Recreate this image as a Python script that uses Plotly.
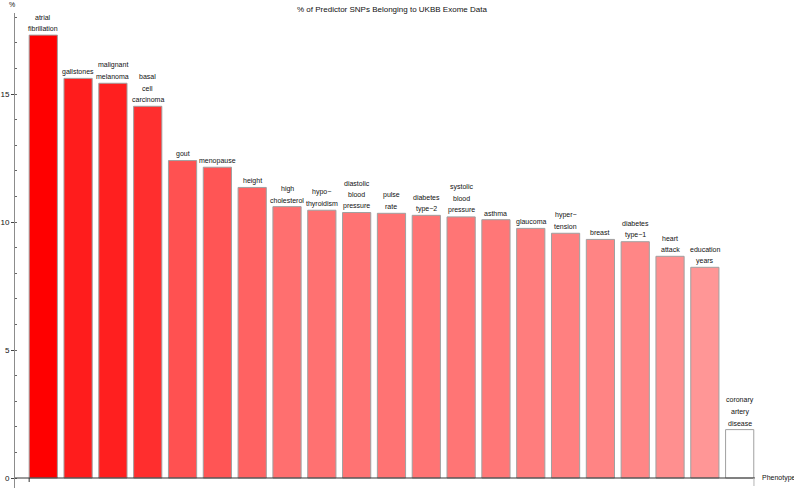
import plotly.graph_objects as go

phenotypes = [
    "atrial\nfibrillation", "gallstones", "malignant\nmelanoma", "basal\ncell\ncarcinoma",
    "gout", "menopause", "height", "high\ncholesterol", "hypo\u2212\nthyroidism",
    "diastolic\nblood\npressure", "pulse\nrate", "diabetes\ntype\u22122",
    "systolic\nblood\npressure", "asthma", "glaucoma", "hyper\u2212\ntension", "breast",
    "diabetes\ntype\u22121", "heart\nattack", "education\nyears", "coronary\nartery\ndisease",
]
percent = [17.30, 15.61, 15.42, 14.52, 12.40, 12.14, 11.35, 10.60, 10.46, 10.37, 10.34,
           10.26, 10.20, 10.09, 9.75, 9.56, 9.32, 9.23, 8.66, 8.23, 1.89]
y_ticks = [0, 5, 10, 15]

x = list(range(len(percent)))
vmin, vmax = min(percent), max(percent)
colors = []
for v in percent:
    s = (v - vmin) / (vmax - vmin)
    g = round(255 * (1 - s))
    colors.append(f"rgb(255,{g},{g})")

FONT = "Arial, Liberation Sans, sans-serif"
fig = go.Figure()
fig.add_trace(go.Bar(
    x=x, y=percent, width=0.81,
    marker=dict(color=colors, line=dict(color="rgb(160,160,160)", width=1)),
    hoverinfo="skip",
))

annotations = []
for xi, v, lab in zip(x, percent, phenotypes):
    lines = lab.split("\n")
    n = len(lines)
    for i, ln in enumerate(lines):
        annotations.append(dict(
            x=xi, y=v, xref="x", yref="y", text=ln, showarrow=False,
            yanchor="middle", xanchor="center", yshift=6.5 + (n - 1 - i) * 11.5,
            font=dict(family=FONT, size=7, color="#111"),
        ))

annotations.append(dict(x=0.509, y=1, xref="paper", yref="paper", yshift=4, yanchor="middle",
                        xanchor="center", showarrow=False,
                        text="% of Predictor SNPs Belonging to UKBB Exome Data",
                        font=dict(family=FONT, size=8, color="#111")))
annotations.append(dict(x=0, y=1, xref="paper", yref="paper", yshift=9, yanchor="middle",
                        xanchor="center", xshift=-3, showarrow=False, text="%",
                        font=dict(family=FONT, size=7, color="#111")))
annotations.append(dict(x=1, y=0, xref="paper", yref="y", xanchor="left", xshift=5,
                        yanchor="middle", showarrow=False, text="Phenotype",
                        font=dict(family=FONT, size=7, color="#111")))

px_per_unit = 25.6
shapes = [
    dict(type="line", xref="paper", yref="y", x0=0, x1=1, y0=0, y1=0,
         line=dict(color="#333", width=1)),
    dict(type="line", xref="x", yref="y", x0=-0.405, x1=-0.405, y0=0, y1=-4 / px_per_unit,
         line=dict(color="#333", width=1)),
    dict(type="line", xref="x", yref="y", x0=20.41, x1=20.41, y0=0, y1=-8 / px_per_unit,
         line=dict(color="rgb(180,180,180)", width=1)),
]

fig.update_layout(
    width=794, height=488,
    margin=dict(l=9, r=39, t=13, b=0),
    paper_bgcolor="white", plot_bgcolor="white",
    showlegend=False,
    annotations=annotations,
    shapes=shapes,
    font=dict(family=FONT, size=8, color="#111"),
    xaxis=dict(range=[-0.812, 20.44], showticklabels=False, showgrid=False, zeroline=False,
               showline=False, ticks=""),
    yaxis=dict(range=[-10 / px_per_unit, 465 / px_per_unit], showgrid=False, zeroline=False,
               showline=True, linecolor="rgb(140,140,140)", linewidth=1,
               tickvals=y_ticks, ticks="outside", ticklen=3, tickcolor="#444",
               tickfont=dict(family=FONT, size=8, color="#111"),
               minor=dict(dtick=1, ticks="inside", ticklen=2, tickcolor="#666", showgrid=False)),
)

fig.write_html("out.html", config={"displayModeBar": False},
               post_script="document.body.style.margin='0';")
